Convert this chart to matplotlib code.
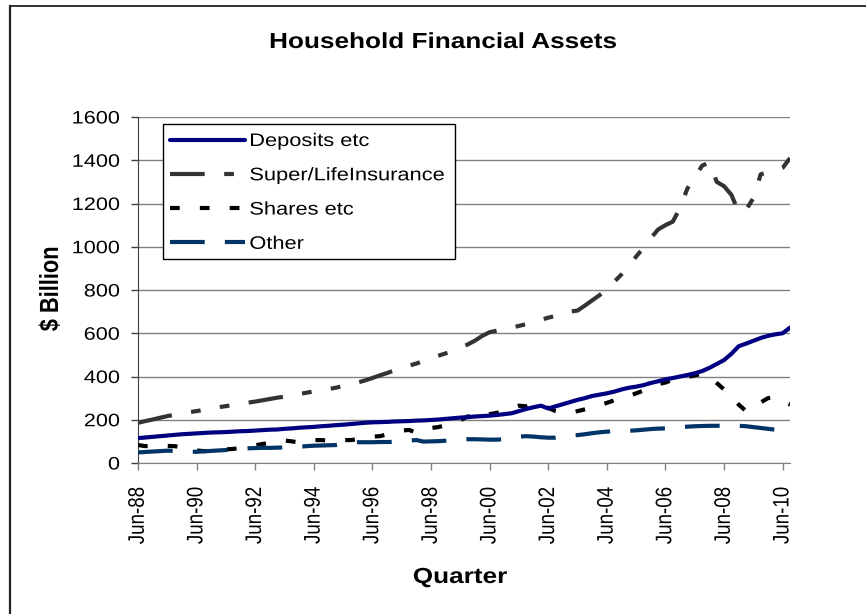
import numpy as np
import matplotlib
matplotlib.use("Agg")
import matplotlib.pyplot as plt
from matplotlib.lines import Line2D
from matplotlib.patches import Rectangle
from matplotlib.patheffects import AbstractPathEffect
from matplotlib.transforms import Affine2D

plt.rcParams['font.family'] = ['Liberation Sans', 'DejaVu Sans']
plt.rcParams['lines.scale_dashes'] = False

# quarterly data, Jun-88 .. Sep-10 ($ billion)
deposits = [115, 118, 121, 124, 127, 130, 133, 135, 137, 139, 141, 142,
            143, 145, 147, 148, 150, 152, 154, 155, 158, 160, 163, 165,
            167, 170, 172, 175, 177, 180, 183, 186, 188, 189, 190, 192,
            193, 194, 196, 197, 199, 201, 204, 207, 210, 212, 215, 217,
            219, 222, 226, 230, 240, 250, 258, 265, 252, 262, 272, 282,
            292, 300, 310, 316, 322, 330, 340, 348, 353, 360, 370, 378,
            387, 393, 400, 407, 415, 425, 440, 458, 476, 505, 540, 552,
            565, 578, 588, 595, 600, 626]
super_life = [186, 194, 201, 209, 217, 223, 229, 235, 240, 246, 252, 258,
              263, 268, 274, 279, 284, 290, 296, 302, 307, 313, 319, 325,
              331, 336, 342, 348, 356, 364, 372, 382, 393, 405, 416, 428,
              440, 450, 460, 472, 485, 496, 507, 518, 532, 548, 566, 588,
              605, 612, 618, 626, 634, 642, 652, 662, 672, 680, 690, 700,
              705, 728, 752, 776, 802, 838, 872, 912, 955, 995, 1040, 1080,
              1100, 1116, 1180, 1270, 1320, 1375, 1390, 1300, 1280, 1240, 1160, 1170,
              1225, 1335, 1345, 1352, 1365, 1410]
shares = [83, 78, 80, 82, 79, 78, 72, 62, 58, 55, 57, 60,
          63, 65, 70, 76, 82, 88, 93, 98, 104, 100, 95, 100,
          106, 106, 104, 108, 106, 106, 110, 117, 122, 124, 132, 140,
          150, 153, 140, 148, 162, 166, 175, 188, 198, 215, 220, 212,
          226, 232, 240, 255, 265, 262, 270, 270, 255, 240, 232, 233,
          240, 248, 255, 267, 278, 290, 300, 310, 322, 335, 352, 365,
          372, 385, 394, 398, 405, 412, 400, 370, 340, 305, 270, 240,
          250, 280, 300, 305, 285, 270]
other = [49, 51, 53, 55, 57, 56, 54, 52, 52, 54, 56, 58,
         60, 63, 66, 68, 69, 70, 70, 71, 72, 73, 75, 78,
         80, 81, 82, 83, 88, 93, 96, 96, 96, 97, 97, 98,
         101, 104, 106, 99, 100, 101, 103, 105, 108, 110, 110, 109,
         108, 108, 110, 116, 122, 124, 122, 119, 117, 117, 122, 127,
         129, 133, 138, 142, 145, 147, 148, 149, 151, 154, 157, 159,
         160, 163, 166, 168, 170, 171, 172, 172, 172, 172, 172, 170,
         166, 162, 158, 154, 153, 152]

labels = ["Jun-88", "Jun-90", "Jun-92", "Jun-94", "Jun-96", "Jun-98",
          "Jun-00", "Jun-02", "Jun-04", "Jun-06", "Jun-08", "Jun-10"]


# the original chart image is stretched sideways, so the text is too
class Stretch(AbstractPathEffect):
    def __init__(self, anchor="center", sx=1.2):
        super().__init__()
        self.anchor = anchor
        self.sx = sx

    def draw_path(self, renderer, gc, tpath, affine, rgbFace=None):
        bb = tpath.get_extents(affine)
        cx = {"left": bb.x0, "center": (bb.x0 + bb.x1) / 2, "right": bb.x1}[self.anchor]
        t = affine + Affine2D().translate(-cx, 0).scale(self.sx, 1).translate(cx, 0)
        renderer.draw_path(gc, tpath, t, rgbFace)


W, H = 866, 614
x = np.arange(len(deposits))

fig = plt.figure(figsize=(W / 100, H / 100), dpi=100)
ax = fig.add_axes([138 / W, 1 - 463 / H, (790 - 138) / W, (463 - 117) / H])

ax.plot(x, deposits, color="#000080", lw=3.0, solid_capstyle="round", label="Deposits etc", zorder=4)
ax.plot(x, super_life, color="#333333", lw=3.0, dashes=(25, 14, 7, 14, 7, 14),
        dash_capstyle="butt", label="Super/LifeInsurance", zorder=3)
ax.plot(x, shares, color="black", lw=3.0, dashes=(7, 14.5),
        dash_capstyle="butt", label="Shares etc", zorder=3)
ax.plot(x, other, color="#003366", lw=3.0, dashes=(25, 14.5),
        dash_capstyle="butt", label="Other", zorder=3)

ax.set_xlim(0, len(x) - 1)
ax.set_ylim(0, 1600)
ax.set_yticks(np.arange(0, 1601, 200))
ax.set_xticks(np.arange(0, len(x), 8))
ax.set_xticklabels(labels, rotation=90)
ax.tick_params(axis="both", length=5, width=1)
ax.tick_params(axis="y", labelsize=13, pad=8, color="#404040")
ax.tick_params(axis="x", labelsize=13.5, pad=12, color="#808080")
ax.grid(axis="y", color="#808080", lw=1)
ax.set_axisbelow(True)
for s in ["top", "right"]:
    ax.spines[s].set_visible(False)
ax.spines["left"].set_color("#404040")
ax.spines["bottom"].set_color("#808080")

for t in ax.get_yticklabels():
    t.set_path_effects([Stretch("right")])
for t in ax.get_xticklabels():
    t.set_path_effects([Stretch("center")])

fig.text(443 / W, 1 - 48 / H, "Household Financial Assets", fontsize=15.7, fontweight="bold",
         ha="center", va="baseline", path_effects=[Stretch("center")])
fig.text(51 / W, 1 - 289 / H, "$ Billion", fontsize=15.7, fontweight="bold",
         rotation=90, ha="center", va="center", path_effects=[Stretch("center")])
fig.text(460 / W, 1 - 583 / H, "Quarter", fontsize=15.7, fontweight="bold",
         ha="center", va="baseline", path_effects=[Stretch("center")])

# legend box drawn by hand so it fits the stretched text
ax.add_patch(Rectangle((163 / W, 1 - 259 / H), 292 / W, 135 / H, transform=fig.transFigure,
                       facecolor="white", edgecolor="black", lw=1, zorder=4.5, clip_on=False))
leg = ax.legend(loc="upper left", bbox_to_anchor=(170 / W, 1 - 133 / H), bbox_transform=fig.transFigure,
                fontsize=13.1, frameon=False, handlelength=4.1, borderaxespad=0, borderpad=0,
                labelspacing=0.95, handletextpad=0.27)
for t in leg.get_texts():
    t.set_path_effects([Stretch("left")])

# outer chart border (left and top edges visible)
fig.add_artist(Line2D([10 / W, 10 / W], [0, 1 - 6 / H], color="#222222", lw=1.6))
fig.add_artist(Line2D([10 / W, 1], [1 - 6 / H, 1 - 6 / H], color="#222222", lw=1.3))

fig.savefig("out.png", dpi=100)
